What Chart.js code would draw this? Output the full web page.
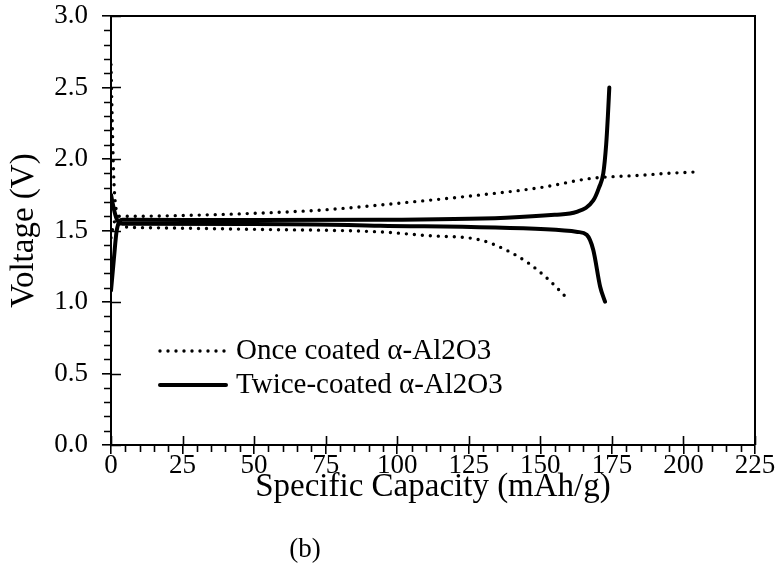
<!DOCTYPE html>
<html>
<head>
<meta charset="utf-8">
<script src="https://cdn.jsdelivr.net/npm/chart.js@4.4.1/dist/chart.umd.min.js"></script>
<style>
  html, body { margin: 0; padding: 0; background: #fff; }
  #wrap { width: 782px; height: 579px; position: relative; }
</style>
</head>
<body>
<div id="wrap"><canvas id="c" width="782" height="579"></canvas></div>
<script>
// ---- data (capacity mAh/g, voltage V) ----
const onceChargeX    = [0, 1, 3, 10, 25, 50, 75, 100, 125, 150, 168, 184, 195, 205];
const onceChargeY    = [1.45, 1.55, 1.60, 1.60, 1.605, 1.62, 1.645, 1.69, 1.74, 1.80, 1.865, 1.885, 1.90, 1.91];
const onceDischargeX = [0, 0.5, 1, 2, 4, 10, 50, 94, 110, 129, 138, 146, 153, 159];
const onceDischargeY = [2.66, 2.2, 1.85, 1.62, 1.53, 1.52, 1.508, 1.49, 1.465, 1.434, 1.364, 1.27, 1.154, 1.033];
const twiceChargeX    = [0, 1, 2, 4, 50, 94, 138, 155, 162.7, 168.5, 170.5, 172, 173, 173.6, 174.1];
const twiceChargeY    = [1.08, 1.3, 1.5, 1.575, 1.573, 1.575, 1.59, 1.61, 1.63, 1.71, 1.80, 1.90, 2.1, 2.3, 2.5];
const twiceDischargeX = [0, 1, 2, 4, 50, 94, 152, 163, 166.2, 168.5, 170.9, 172.6];
const twiceDischargeY = [1.75, 1.65, 1.58, 1.548, 1.545, 1.534, 1.508, 1.49, 1.47, 1.364, 1.107, 1.002];

const seriesNames = ['Once coated \u03b1-Al2O3', 'Twice-coated \u03b1-Al2O3'];
const xTickStep = 25, xMinorStep = 5, xMin = 0, xMax = 225;
const yTickStep = 0.5, yMinorStep = 0.1, yMin = 0, yMax = 3.0;
const xTitle = 'Specific Capacity (mAh/g)';
const yTitle = 'Voltage (V)';
const panelLabel = '(b)';

const FONT = '"Liberation Serif", "Times New Roman", serif';

function pts(xs, ys) { return xs.map((x, i) => ({ x: x, y: ys[i] })); }

const dottedStyle = { borderColor: '#000', borderWidth: 3.4, borderDash: [0, 8], borderCapStyle: 'round' };
const solidStyle  = { borderColor: '#000', borderWidth: 4, borderDash: [], borderCapStyle: 'round' };

const datasets = [
  Object.assign({ label: seriesNames[0], data: pts(onceChargeX, onceChargeY), legendItem: true }, dottedStyle),
  Object.assign({ label: seriesNames[0], data: pts(onceDischargeX, onceDischargeY) }, dottedStyle),
  Object.assign({ label: seriesNames[1], data: pts(twiceChargeX, twiceChargeY), legendItem: true }, solidStyle),
  Object.assign({ label: seriesNames[1], data: pts(twiceDischargeX, twiceDischargeY) }, solidStyle)
].map(d => Object.assign(d, {
  showLine: true, pointRadius: 0, pointHoverRadius: 0, fill: false,
  cubicInterpolationMode: 'monotone', borderJoinStyle: 'round'
}));

const axesPlugin = {
  id: 'axesExtras',
  afterDraw(chart) {
    const ctx = chart.ctx;
    const a = chart.chartArea;
    const xs = chart.scales.x, ys = chart.scales.y;
    ctx.save();
    ctx.strokeStyle = '#000';
    // frame (top and right)
    ctx.lineWidth = 2;
    ctx.beginPath();
    ctx.moveTo(a.left, a.top); ctx.lineTo(a.right, a.top); ctx.lineTo(a.right, a.bottom);
    ctx.stroke();
    // minor ticks outward, major ticks inner part
    ctx.lineWidth = 1.6;
    ctx.beginPath();
    for (let v = xMin; v <= xMax + 1e-9; v += xMinorStep) {
      const px = Math.round(xs.getPixelForValue(v)) + 0.5;
      const major = Math.abs(v / xTickStep - Math.round(v / xTickStep)) < 1e-6;
      if (major) { ctx.moveTo(px, a.bottom); ctx.lineTo(px, a.bottom - 9); }
      else { ctx.moveTo(px, a.bottom); ctx.lineTo(px, a.bottom + 7); }
    }
    for (let i = 0; i <= Math.round((yMax - yMin) / yMinorStep); i++) {
      const v = yMin + i * yMinorStep;
      const py = Math.round(ys.getPixelForValue(v)) + 0.5;
      const major = i % Math.round(yTickStep / yMinorStep) === 0;
      if (major) { ctx.moveTo(a.left, py); ctx.lineTo(a.left + 10, py); }
      else { ctx.moveTo(a.left, py); ctx.lineTo(a.left - 7, py); }
    }
    ctx.stroke();
    // legend
    const items = chart.data.datasets.filter(d => d.legendItem);
    const lx0 = a.left + 49, lx1 = a.left + 115, tx = a.left + 125;
    const ly0 = ys.getPixelForValue(0) - 94, gap = 34;
    items.forEach((d, i) => {
      const y = ly0 + i * gap;
      ctx.save();
      ctx.strokeStyle = d.borderColor;
      ctx.lineWidth = d.borderWidth;
      ctx.lineCap = d.borderCapStyle;
      ctx.setLineDash(d.borderDash);
      ctx.beginPath();
      ctx.moveTo(lx0, y); ctx.lineTo(lx1, y);
      ctx.stroke();
      ctx.restore();
      ctx.fillStyle = '#000';
      ctx.font = '29px ' + FONT;
      ctx.textBaseline = 'middle';
      ctx.textAlign = 'left';
      ctx.fillText(d.label, tx, y);
    });
    // panel label
    ctx.font = '27px ' + FONT;
    ctx.textAlign = 'center';
    ctx.textBaseline = 'middle';
    ctx.fillText(panelLabel, 305, 550);
    ctx.restore();
  }
};

Chart.defaults.font.family = FONT;
Chart.defaults.color = '#000';

new Chart(document.getElementById('c'), {
  type: 'scatter',
  data: { datasets: datasets },
  options: {
    responsive: false,
    animation: false,
    events: [],
    layout: { padding: { left: 0, top: 16, right: 27, bottom: 72 } },
    plugins: { legend: { display: false }, tooltip: { enabled: false } },
    scales: {
      x: {
        type: 'linear', min: xMin, max: xMax,
        ticks: { stepSize: xTickStep, font: { size: 27 }, padding: -4, maxRotation: 0, autoSkip: false },
        grid: { drawOnChartArea: false, drawTicks: true, tickLength: 9, color: '#000', lineWidth: 1.6 },
        border: { display: true, color: '#000', width: 2 },
        title: { display: true, text: xTitle, font: { size: 33 }, padding: { top: 0, bottom: 0 } },
        afterFit(s) { s.height = 62; s.paddingLeft = 0; s.paddingRight = 0; }
      },
      y: {
        type: 'linear', min: yMin, max: yMax,
        ticks: { stepSize: yTickStep, font: { size: 27 }, padding: 14, callback: v => Number(v).toFixed(1) },
        grid: { drawOnChartArea: false, drawTicks: true, tickLength: 9, color: '#000', lineWidth: 1.6 },
        border: { display: true, color: '#000', width: 2 },
        title: { display: true, text: yTitle, font: { size: 33 }, padding: { top: 5, bottom: 0 } },
        afterFit(s) { s.width = 111; s.paddingTop = 0; s.paddingBottom = 0; }
      }
    }
  },
  plugins: [axesPlugin]
});
</script>
</body>
</html>
